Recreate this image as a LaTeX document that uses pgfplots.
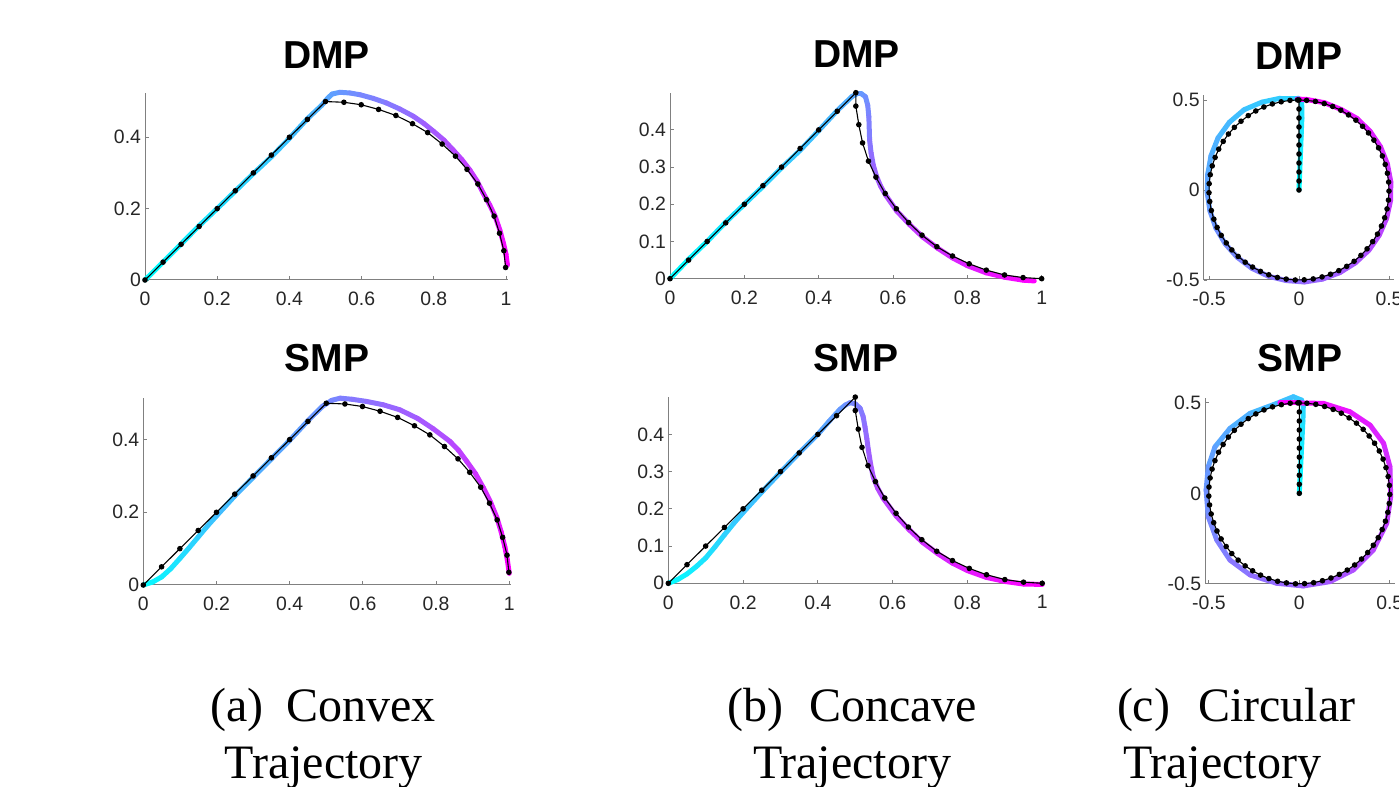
\documentclass[border=0pt]{standalone}
\usepackage{fontspec}
\setmainfont{Liberation Serif}
\newfontfamily\arial{Liberation Sans}
\usepackage{pgfplots}
\usepackage{pgfplotstable}
\pgfplotsset{compat=1.18}

\definecolor{axgray}{RGB}{128,128,128}
\definecolor{lblgray}{RGB}{38,38,38}

% demonstrated paths (black, with dots)
\pgfplotstableread{
x y
0 0
0.05 0.05
0.1 0.1
0.15 0.15
0.2 0.2
0.25 0.25
0.3 0.3
0.35 0.35
0.4 0.4
0.45 0.45
0.5 0.5
0.551 0.498
0.599 0.491
0.647 0.478
0.695 0.461
0.741 0.438
0.783 0.413
0.823 0.381
0.860 0.347
0.892 0.310
0.922 0.269
0.946 0.225
0.967 0.179
0.982 0.131
0.994 0.082
0.999 0.035
}\convexdemo

\pgfplotstableread{
x y
0 0
0.05 0.05
0.1 0.1
0.15 0.15
0.2 0.2
0.25 0.25
0.3 0.3
0.35 0.35
0.4 0.4
0.45 0.45
0.5 0.5
0.500 0.464
0.508 0.414
0.518 0.365
0.534 0.316
0.554 0.273
0.579 0.229
0.609 0.188
0.642 0.151
0.678 0.117
0.718 0.086
0.760 0.061
0.805 0.040
0.851 0.023
0.900 0.010
0.950 0.003
1.000 0.000
}\concavedemo

\pgfplotstableread{
x y
0 0
0 0.05
0 0.1
0 0.15
0 0.2
0 0.25
0 0.3
0 0.35
0 0.4
0 0.45
0 0.5
-0.050 0.498
-0.099 0.490
-0.148 0.478
-0.195 0.461
-0.240 0.439
-0.282 0.413
-0.322 0.382
-0.359 0.348
-0.392 0.311
-0.421 0.270
-0.446 0.227
-0.466 0.181
-0.482 0.134
-0.493 0.085
-0.499 0.035
-0.500 -0.015
-0.496 -0.064
-0.487 -0.114
-0.473 -0.162
-0.455 -0.208
-0.432 -0.252
-0.404 -0.294
-0.373 -0.333
-0.338 -0.369
-0.299 -0.401
-0.258 -0.428
-0.214 -0.452
-0.168 -0.471
-0.120 -0.486
-0.071 -0.495
-0.021 -0.500
0.029 -0.499
0.079 -0.494
0.128 -0.483
0.175 -0.468
0.221 -0.448
0.265 -0.424
0.306 -0.396
0.344 -0.363
0.378 -0.327
0.409 -0.287
0.436 -0.245
0.458 -0.200
0.476 -0.154
0.489 -0.105
0.497 -0.056
0.500 -0.006
0.498 0.044
0.491 0.093
0.479 0.142
0.463 0.189
0.442 0.234
0.416 0.277
0.386 0.317
0.353 0.354
0.316 0.388
0.275 0.417
0.232 0.443
0.187 0.464
0.140 0.480
0.091 0.492
0.042 0.498
-0.008 0.500
}\circledemo

\pgfplotsset{
  traj/.style={
    scale only axis, anchor=south west,
    axis lines*=left,
    axis line style={-, draw=axgray, line width=0.5pt},
    every outer x axis line/.append style={-},
    every outer y axis line/.append style={-},
    tick align=inside, major tick length=1.8pt,
    tick style={axgray, line width=0.4pt},
    ticklabel style={font=\arial\fontsize{9.7}{10}\selectfont, text=lblgray},
    /pgf/number format/assume math mode=true,
    xticklabel style={yshift=-2.6pt},
    yticklabel style={xshift=1.5pt},
    title style={font=\arial\bfseries\fontsize{19.5}{19.5}\selectfont, anchor=base, inner sep=0pt},
    clip=false,
    colormap={mycool}{rgb(0cm)=(0,1,1); rgb(1cm)=(1,0,1)},
  },
  rep/.style={mesh, point meta=\coordindex, line width=2.5pt, line cap=round, line join=round},
  demo/.style={black, line width=0.55pt, mark=*, mark size=1.1pt},
}

\begin{document}
\begin{tikzpicture}
\path[use as bounding box] (0,0) rectangle (699.5pt,393.5pt);
\clip (0,0) rectangle (699.5pt,393.5pt);

% ---- (a) convex, DMP
\begin{axis}[traj, at={(72.5pt,253.5pt)}, width=181.4pt, height=93.5pt,
  xmin=0, xmax=1.005, ymin=0, ymax=0.524,
  xtick={0,0.2,0.4,0.6,0.8,1}, ytick={0,0.2,0.4},
  title={DMP}, title style={yshift=6.15pt}]
\addplot[rep] coordinates {
(0,0) (0.05,0.05) (0.1,0.101) (0.15,0.152) (0.2,0.2) (0.25,0.249) (0.3,0.298)
(0.35,0.345) (0.4,0.397) (0.45,0.452) (0.49,0.49) (0.505,0.508) (0.518,0.521)
(0.540,0.526) (0.568,0.524) (0.596,0.519) (0.632,0.509) (0.669,0.496)
(0.706,0.479) (0.743,0.459) (0.772,0.439) (0.799,0.417) (0.828,0.392)
(0.854,0.364) (0.878,0.337) (0.900,0.308) (0.920,0.277) (0.937,0.243)
(0.955,0.210) (0.970,0.178) (0.983,0.140) (0.993,0.103) (1.000,0.072)
(1.004,0.042)};
\addplot[demo] table[x=x,y=y] {\convexdemo};
\end{axis}

% ---- (a) convex, SMP
\begin{axis}[traj, at={(71.65pt,101pt)}, width=183.7pt, height=93.6pt,
  xmin=0, xmax=1.004, ymin=0, ymax=0.515,
  xtick={0,0.2,0.4,0.6,0.8,1}, ytick={0,0.2,0.4},
  title={SMP}, title style={yshift=7.2pt}]
\addplot[rep] coordinates {
(0,0) (0.025,0.008) (0.05,0.022) (0.075,0.045) (0.1,0.073) (0.125,0.102)
(0.15,0.132) (0.175,0.162) (0.2,0.19) (0.25,0.245) (0.3,0.296)
(0.35,0.347) (0.4,0.398) (0.45,0.452) (0.49,0.492) (0.515,0.508) (0.538,0.514)
(0.57,0.511) (0.61,0.505) (0.655,0.496) (0.701,0.482) (0.75,0.458)
(0.792,0.430) (0.838,0.395) (0.862,0.370) (0.884,0.340) (0.908,0.306)
(0.929,0.268) (0.949,0.228) (0.966,0.186) (0.978,0.146) (0.988,0.105)
(0.995,0.068) (1.0,0.032)};
\addplot[demo] table[x=x,y=y] {\convexdemo};
\end{axis}

% ---- (b) concave, DMP
\begin{axis}[traj, at={(335pt,254.15pt)}, width=186.4pt, height=93pt,
  xmin=0, xmax=1.003, ymin=0, ymax=0.5,
  xtick={0,0.2,0.4,0.6,0.8,1}, ytick={0,0.1,0.2,0.3,0.4},
  title={DMP}, title style={yshift=6.35pt}]
\addplot[rep] coordinates {
(0,0) (0.05,0.052) (0.1,0.1) (0.15,0.152) (0.2,0.2) (0.25,0.248) (0.3,0.298)
(0.35,0.345) (0.4,0.398) (0.45,0.452) (0.49,0.49) (0.503,0.497) (0.515,0.497)
(0.526,0.489) (0.532,0.466) (0.535,0.435) (0.537,0.373) (0.541,0.338)
(0.547,0.305) (0.556,0.274) (0.567,0.248) (0.58,0.225) (0.61,0.182)
(0.645,0.145) (0.68,0.112) (0.72,0.082) (0.76,0.056) (0.8,0.035) (0.85,0.016)
(0.9,0.004) (0.95,-0.004) (0.98,-0.006)};
\addplot[demo] table[x=x,y=y] {\concavedemo};
\end{axis}

% ---- (b) concave, SMP
\begin{axis}[traj, at={(334.15pt,101.85pt)}, width=187.9pt, height=93.1pt,
  xmin=0, xmax=1.005, ymin=0, ymax=0.5,
  xtick={0,0.2,0.4,0.6,0.8,1}, ytick={0,0.1,0.2,0.3,0.4},
  title={SMP}, title style={yshift=6.7pt}]
\addplot[rep] coordinates {
(0,0) (0.025,0.01) (0.05,0.025) (0.075,0.045) (0.1,0.068) (0.125,0.098)
(0.15,0.13) (0.175,0.161) (0.2,0.19) (0.25,0.245) (0.3,0.298)
(0.35,0.35) (0.4,0.4) (0.43,0.435) (0.459,0.467) (0.474,0.479) (0.486,0.485)
(0.5,0.482) (0.513,0.47) (0.521,0.448) (0.526,0.42) (0.531,0.388)
(0.535,0.358) (0.541,0.32) (0.548,0.286) (0.56,0.255) (0.575,0.228)
(0.61,0.18) (0.645,0.143) (0.68,0.11) (0.72,0.08) (0.76,0.054) (0.8,0.034)
(0.85,0.016) (0.9,0.005) (0.95,-0.002) (1.0,-0.003)};
\addplot[demo] table[x=x,y=y] {\concavedemo};
\end{axis}

% ---- (c) circular, DMP
\begin{axis}[traj, at={(601.8pt,253.5pt)}, width=95.4pt, height=92.7pt,
  xmin=-0.53, xmax=0.53, ymin=-0.5, ymax=0.53,
  xtick={-0.5,0,0.5}, ytick={-0.5,0,0.5},
  title={DMP}, title style={yshift=6.45pt}]
\addplot[rep] coordinates {
(0,0) (0.004,0.1) (0.008,0.2) (0.012,0.3) (0.016,0.4) (0.015,0.49)
(-0.005,0.51) (-0.103,0.510) (-0.206,0.488) (-0.305,0.446) (-0.387,0.376)
(-0.450,0.289) (-0.489,0.190) (-0.507,0.088) (-0.510,-0.015) (-0.495,-0.115)
(-0.462,-0.211) (-0.410,-0.299) (-0.343,-0.374) (-0.262,-0.435) (-0.170,-0.479)
(-0.072,-0.503) (0.030,-0.511) (0.131,-0.495) (0.227,-0.459) (0.313,-0.405)
(0.388,-0.335) (0.446,-0.251) (0.487,-0.157) (0.509,-0.057) (0.510,0.045)
(0.491,0.145) (0.453,0.240) (0.396,0.325) (0.323,0.397) (0.235,0.447)
(0.141,0.485) (0.042,0.503) (-0.01,0.505)};
\addplot[demo] table[x=x,y=y] {\circledemo};
\end{axis}

% ---- (c) circular, SMP
\begin{axis}[traj, at={(602.6pt,101.6pt)}, width=95pt, height=92.9pt,
  xmin=-0.52, xmax=0.53, ymin=-0.5, ymax=0.527,
  xtick={-0.5,0,0.5}, ytick={-0.5,0,0.5},
  title={SMP}, title style={yshift=7.35pt}]
\addplot[rep] coordinates {
(0,0) (0.005,0.1) (0.01,0.2) (0.015,0.3) (0.02,0.4) (0.022,0.48) (0.013,0.515)
(-0.033,0.534) (-0.125,0.497) (-0.272,0.442) (-0.383,0.359) (-0.466,0.257)
(-0.503,0.147) (-0.515,0.018) (-0.503,-0.129) (-0.456,-0.258) (-0.383,-0.369)
(-0.272,-0.451) (-0.125,-0.497) (0.022,-0.512) (0.17,-0.488) (0.298,-0.424)
(0.409,-0.313) (0.483,-0.166) (0.505,-0.019) (0.501,0.147) (0.466,0.276)
(0.391,0.377) (0.28,0.451) (0.134,0.497) (-0.014,0.5) (-0.107,0.5)};
\addplot[demo] table[x=x,y=y] {\circledemo};
\end{axis}

% ---- sub-captions
\begin{scope}[every node/.style={anchor=base west, inner sep=0pt, font=\fontsize{24}{24}\selectfont}]
\node at (105pt,32.65pt) {\makebox[112.5pt]{(a)\hfill Convex}};
\node at (112pt,4.35pt) {Trajectory};
\node at (363.6pt,32.65pt) {\makebox[124.7pt]{(b)\hfill Concave}};
\node at (376.3pt,4.35pt) {Trajectory};
\node at (558.3pt,32.65pt) {\makebox[119.2pt]{(c)\hfill Circular}};
\node at (561.3pt,4.35pt) {Trajectory};
\end{scope}
\end{tikzpicture}
\end{document}
